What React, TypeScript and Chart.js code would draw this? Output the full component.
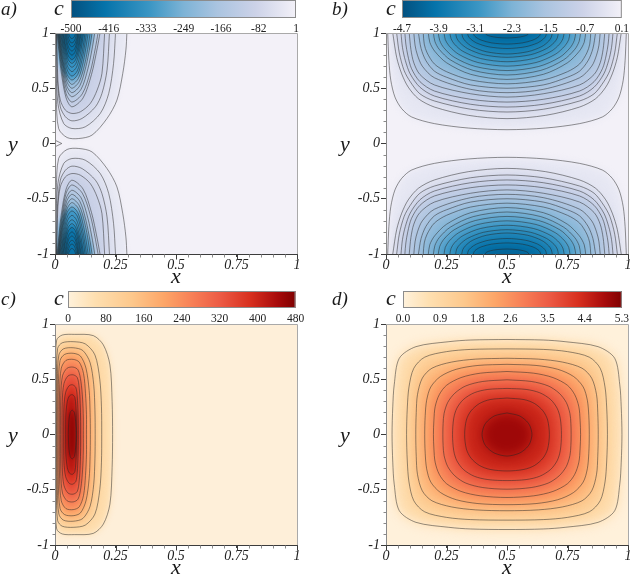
import React, { useEffect, useRef } from "react";
import { Chart, registerables } from "chart.js";

Chart.register(...registerables);

const FONT = '"Liberation Serif", "Times New Roman", serif';

const xMajor = [0, 0.25, 0.5, 0.75, 1];
const yMajor = [-1, -0.5, 0, 0.5, 1];
const xMinor = [0.05, 0.1, 0.15, 0.2, 0.3, 0.35, 0.4, 0.45, 0.55, 0.6, 0.65, 0.7, 0.8, 0.85, 0.9, 0.95];
const yMinor = [-0.9, -0.8, -0.7, -0.6, -0.4, -0.3, -0.2, -0.1, 0.1, 0.2, 0.3, 0.4, 0.6, 0.7, 0.8, 0.9];

const barTicksA = [-500, -416, -333, -249, -166, -82, 1];
const barTicksB = [-4.7, -3.9, -3.1, -2.3, -1.5, -0.7, 0.1];
const barTicksC = [0, 80, 160, 240, 320, 400, 480];
const barTicksD = [0, 0.9, 1.8, 2.6, 3.5, 4.4, 5.3];

const blueStops = ["#03507f", "#0573aa", "#3b96c4", "#7db3d6", "#aac4e0", "#ccd2e8", "#f3f1f8"];
const blueAt = [0, 0.15, 0.35, 0.5, 0.65, 0.82, 1];
const redStops = ["#fff2dc", "#fedfb0", "#fdc88c", "#fda668", "#f77e56", "#ec5a44", "#d8301f", "#a80b0b", "#7f0000"];
const redAt = [0, 0.12, 0.28, 0.42, 0.55, 0.67, 0.8, 0.92, 1];

// Panel a, upper lobe contours: x,y pairs running left to right
const contoursA = [
  [0.002,1,0.003,0.6,0.005,0.423,0.015,0.136,0.05,0.054,0.098,0.045,0.153,0.076,0.215,0.227,0.256,0.393,0.28,0.634,0.293,0.846,0.297,1],
  [0.004,1,0.004,0.725,0.012,0.362,0.036,0.181,0.07,0.136,0.125,0.151,0.187,0.272,0.222,0.453,0.242,0.725,0.25,1],
  [0.006,1,0.007,0.8,0.01,0.574,0.022,0.332,0.043,0.242,0.07,0.205,0.112,0.227,0.167,0.332,0.194,0.453,0.215,0.665,0.225,1],
  [0.007,1,0.012,0.574,0.022,0.393,0.043,0.302,0.07,0.272,0.105,0.287,0.146,0.363,0.174,0.483,0.194,0.634,0.205,1],
  [0.009,1,0.015,0.856,0.027,0.626,0.046,0.412,0.07,0.332,0.116,0.412,0.151,0.626,0.174,0.856,0.186,1],
  [0.011,1,0.017,0.866,0.029,0.65,0.046,0.45,0.07,0.375,0.113,0.45,0.146,0.65,0.167,0.866,0.178,1],
  [0.013,1,0.019,0.876,0.03,0.677,0.047,0.492,0.07,0.423,0.108,0.492,0.136,0.677,0.155,0.876,0.164,1],
  [0.015,1,0.02,0.884,0.032,0.698,0.048,0.525,0.07,0.46,0.103,0.525,0.128,0.698,0.145,0.884,0.153,1],
  [0.017,1,0.022,0.893,0.033,0.72,0.049,0.56,0.07,0.5,0.1,0.56,0.123,0.72,0.138,0.893,0.145,1],
  [0.019,1,0.024,0.9,0.034,0.74,0.05,0.591,0.07,0.535,0.097,0.591,0.117,0.74,0.13,0.9,0.137,1],
  [0.021,1,0.026,0.908,0.036,0.761,0.05,0.625,0.07,0.574,0.094,0.625,0.112,0.761,0.124,0.908,0.13,1],
  [0.024,1,0.029,0.916,0.038,0.782,0.052,0.657,0.07,0.61,0.092,0.657,0.108,0.782,0.119,0.916,0.124,1],
  [0.027,1,0.031,0.925,0.04,0.804,0.053,0.692,0.07,0.65,0.089,0.692,0.104,0.804,0.113,0.925,0.118,1],
  [0.03,1,0.034,0.933,0.042,0.826,0.054,0.727,0.07,0.69,0.087,0.727,0.1,0.826,0.109,0.933,0.113,1],
  [0.033,1,0.037,0.941,0.044,0.846,0.055,0.758,0.07,0.725,0.085,0.758,0.097,0.846,0.104,0.941,0.108,1],
  [0.036,1,0.039,0.948,0.046,0.866,0.056,0.789,0.07,0.76,0.084,0.789,0.094,0.866,0.101,0.948,0.104,1],
  [0.04,1,0.043,0.957,0.049,0.888,0.058,0.824,0.07,0.8,0.082,0.824,0.091,0.888,0.097,0.957,0.1,1],
  [0.043,1,0.046,0.965,0.051,0.909,0.059,0.857,0.07,0.837,0.081,0.857,0.089,0.909,0.094,0.965,0.097,1],
  [0.047,1,0.049,0.973,0.054,0.931,0.061,0.891,0.07,0.876,0.08,0.891,0.087,0.931,0.092,0.973,0.094,1],
  [0.051,1,0.053,0.981,0.057,0.95,0.062,0.921,0.07,0.91,0.078,0.921,0.084,0.95,0.088,0.981,0.09,1],
  [0.056,1,0.057,0.989,0.06,0.972,0.064,0.956,0.07,0.95,0.076,0.956,0.081,0.972,0.084,0.989,0.085,1],
];
const chevronA = [0, 0.03, 0.028, 0, 0, -0.03];
// Panel a, the wider blue patches that spread past the lines near the wall
const patchOuterA = [0.012,1,0.015,0.75,0.035,0.62,0.07,0.56,0.105,0.62,0.125,0.75,0.15,0.9,0.155,1];
const patchInnerA = [0.02,1,0.03,0.85,0.07,0.72,0.11,0.85,0.13,1];

// Panel b, one quarter of each contour: x,y pairs from the apex at x=0.5 to the y=1 edge
const contoursB = [
  [0.5,0.125,0.34,0.14,0.2,0.18,0.106,0.24,0.065,0.315,0.037,0.42,0.02,0.57,0.012,0.75,0.007,1],
  [0.5,0.225,0.34,0.255,0.2,0.33,0.134,0.405,0.092,0.51,0.065,0.63,0.044,0.78,0.028,1],
  [0.5,0.285,0.35,0.31,0.2,0.385,0.14,0.45,0.1,0.56,0.075,0.66,0.055,0.82,0.044,1],
  [0.5,0.33,0.35,0.355,0.2,0.43,0.14,0.51,0.1,0.63,0.08,0.75,0.068,0.87,0.062,1],
  [0.5,0.375,0.35,0.4,0.2,0.475,0.14,0.56,0.105,0.68,0.09,0.8,0.082,0.9,0.078,1],
  [0.5,0.42,0.35,0.45,0.2,0.53,0.14,0.625,0.115,0.73,0.103,0.85,0.096,1],
  [0.5,0.46,0.35,0.49,0.2,0.595,0.15,0.7,0.13,0.8,0.12,0.89,0.115,1],
  [0.5,0.5,0.35,0.53,0.25,0.6,0.2,0.655,0.165,0.75,0.145,0.86,0.134,1],
  [0.5,0.54,0.35,0.575,0.25,0.65,0.2,0.72,0.17,0.82,0.158,0.9,0.154,1],
  [0.5,0.58,0.35,0.626,0.25,0.731,0.201,0.836,0.181,0.916,0.175,1],
  [0.5,0.62,0.36,0.662,0.266,0.757,0.22,0.852,0.202,0.924,0.196,1],
  [0.5,0.66,0.369,0.697,0.281,0.782,0.239,0.867,0.222,0.932,0.216,1],
  [0.5,0.7,0.38,0.733,0.3,0.808,0.261,0.883,0.245,0.94,0.24,1],
  [0.5,0.74,0.391,0.769,0.318,0.834,0.283,0.899,0.269,0.948,0.264,1],
  [0.5,0.78,0.402,0.804,0.337,0.859,0.305,0.914,0.292,0.956,0.288,1],
  [0.5,0.81,0.414,0.831,0.356,0.878,0.328,0.926,0.317,0.962,0.313,1],
  [0.5,0.86,0.425,0.875,0.374,0.91,0.35,0.945,0.34,0.972,0.337,1],
  [0.5,0.9,0.436,0.911,0.393,0.936,0.372,0.961,0.364,0.98,0.361,1],
  [0.5,0.955,0.459,0.96,0.431,0.971,0.417,0.982,0.412,0.991,0.41,1],
];

// Panel c, upper half of each closed contour: x,y pairs left to right
const contoursC = [
  [0.003,0,0.003,0.6,0.007,0.855,0.03,0.9,0.08,0.906,0.158,0.895,0.2,0.81,0.227,0.63,0.236,0.3,0.238,0],
  [0.006,0,0.006,0.5,0.011,0.78,0.03,0.83,0.075,0.84,0.125,0.82,0.165,0.72,0.185,0.5,0.192,0.25,0.193,0],
  [0.009,0,0.01,0.5,0.016,0.72,0.035,0.775,0.075,0.785,0.115,0.76,0.145,0.65,0.16,0.45,0.165,0.22,0.166,0],
  [0.013,0,0.014,0.45,0.021,0.67,0.04,0.725,0.075,0.735,0.105,0.71,0.128,0.6,0.141,0.4,0.145,0.2,0.146,0],
  [0.018,0,0.019,0.4,0.026,0.6,0.045,0.67,0.075,0.68,0.1,0.655,0.118,0.55,0.126,0.37,0.13,0.18,0.13,0],
  [0.023,0,0.024,0.35,0.031,0.53,0.05,0.6,0.075,0.61,0.095,0.585,0.107,0.48,0.114,0.32,0.117,0.15,0.117,0],
  [0.029,0,0.03,0.3,0.037,0.46,0.054,0.53,0.075,0.54,0.092,0.515,0.1,0.42,0.104,0.28,0.106,0.12,0.106,0],
  [0.036,0,0.037,0.25,0.044,0.38,0.058,0.44,0.072,0.45,0.086,0.425,0.092,0.34,0.095,0.2,0.096,0],
  [0.044,0,0.045,0.18,0.051,0.3,0.06,0.35,0.072,0.36,0.082,0.335,0.086,0.26,0.088,0.15,0.089,0],
  [0.055,0,0.057,0.12,0.063,0.2,0.071,0.22,0.08,0.2,0.085,0.12,0.087,0],
];

// Panel d, one quarter of each closed contour: x,y pairs from the apex to the y=0 side
const contoursD = [
  [0.5,0.86,0.35,0.855,0.26,0.84,0.124,0.795,0.055,0.69,0.034,0.45,0.028,0.25,0.025,0],
  [0.5,0.775,0.35,0.77,0.25,0.75,0.16,0.7,0.115,0.6,0.095,0.43,0.088,0.24,0.085,0],
  [0.5,0.69,0.37,0.682,0.27,0.655,0.19,0.6,0.15,0.51,0.13,0.36,0.125,0.2,0.123,0],
  [0.5,0.635,0.38,0.625,0.29,0.59,0.225,0.525,0.185,0.43,0.168,0.31,0.162,0.17,0.16,0],
  [0.5,0.57,0.39,0.555,0.31,0.515,0.25,0.445,0.22,0.36,0.203,0.25,0.198,0.13,0.196,0],
  [0.5,0.495,0.4,0.48,0.33,0.44,0.285,0.375,0.255,0.29,0.24,0.19,0.236,0.1,0.235,0],
  [0.5,0.417,0.421,0.408,0.365,0.378,0.32,0.317,0.293,0.238,0.28,0.148,0.275,0],
  [0.5,0.33,0.43,0.316,0.386,0.28,0.351,0.213,0.332,0.13,0.325,0],
  [0.5,0.195,0.45,0.17,0.42,0.123,0.405,0.076,0.397,0],
];

type P = { x: number; y: number };
const pairs = (f: number[]): P[] => {
  const o: P[] = [];
  for (let i = 0; i < f.length; i += 2) o.push({ x: f[i], y: f[i + 1] });
  return o;
};
const flipY = (p: P[]) => p.map((q) => ({ x: q.x, y: -q.y }));
const flipX = (p: P[]) => p.map((q) => ({ x: 1 - q.x, y: q.y }));
const rev = (p: P[]) => [...p].reverse();

const hex = (h: string) => [1, 3, 5].map((i) => parseInt(h.slice(i, i + 2), 16));
const colorAt = (stops: string[], at: number[], t: number) => {
  const v = Math.min(1, Math.max(0, t));
  let i = 0;
  while (i < at.length - 2 && v > at[i + 1]) i++;
  const f = (v - at[i]) / (at[i + 1] - at[i]);
  const a = hex(stops[i]);
  const b = hex(stops[i + 1]);
  return `rgb(${a.map((c, j) => Math.round(c + (b[j] - c) * f)).join(",")})`;
};

const blue = (t: number) => colorAt(blueStops, blueAt, t);
const red = (t: number) => colorAt(redStops, redAt, t);

const LINE = "rgba(35,35,35,0.7)";
const ds = (data: P[], band: string | null, tension = 0.3, stroke = LINE) => ({
  data,
  showLine: true,
  borderColor: stroke,
  borderWidth: 0.7,
  pointRadius: 0,
  tension,
  bandColor: band,
});

const dsA = () => {
  const out: any[] = [];
  contoursA.forEach((c, k) => {
    const col = blue(1 - (k + 1.2) / 22);
    out.push(ds(pairs(c), col), ds(flipY(pairs(c)), col));
  });
  [[patchOuterA, "rgba(50,145,195,0.8)"], [patchInnerA, "rgba(5,110,165,0.85)"]].forEach(([f, col]: any) => {
    out.push(ds(pairs(f), col, 0.3, "rgba(0,0,0,0)"), ds(flipY(pairs(f)), col, 0.3, "rgba(0,0,0,0)"));
  });
  out.push(ds(pairs(chevronA), null, 0));
  return out;
};
const dsB = () => {
  const out: any[] = [];
  contoursB.forEach((c, k) => {
    const col = blue(1 - (k + 1.2) / 20.5);
    const q = pairs(c);
    const arch = [...rev(q), ...flipX(q).slice(1)];
    out.push(ds(arch, col), ds(flipY(arch), col));
  });
  return out;
};
const dsC = () =>
  contoursC.map((c, k) => {
    const top = pairs(c);
    return ds([...top, ...rev(flipY(top)).slice(1)], red((k + 1.4) / 10.6));
  });
const dsD = () =>
  contoursD.map((c, k) => {
    const q = pairs(c);
    const left = [...q, ...rev(flipY(q)).slice(1)];
    return ds([...left, ...rev(flipX(left)).slice(1)], red((k + 1.4) / 10));
  });

const bandPlugin = {
  id: "bands",
  beforeDatasetsDraw(chart: any, _a: any, o: any) {
    const { ctx, chartArea: ar } = chart;
    ctx.save();
    ctx.beginPath();
    ctx.rect(ar.left, ar.top, ar.right - ar.left, ar.bottom - ar.top);
    ctx.clip();
    ctx.fillStyle = o.base;
    ctx.fillRect(ar.left, ar.top, ar.right - ar.left, ar.bottom - ar.top);
    ctx.filter = `blur(${o.blur}px)`;
    const cy = (ar.top + ar.bottom) / 2;
    ctx.translate(0, cy);
    ctx.scale(1, o.stretch);
    ctx.translate(0, -cy);
    chart.data.datasets.forEach((d: any, i: number) => {
      if (!d.bandColor) return;
      const line = chart.getDatasetMeta(i).dataset;
      line.updateControlPoints(ar, "x");
      ctx.fillStyle = d.bandColor;
      ctx.beginPath();
      line.path(ctx);
      ctx.closePath();
      ctx.fill();
    });
    ctx.restore();
  },
};

const framePlugin = {
  id: "frame",
  afterDraw(chart: any, _a: any, o: any) {
    const { ctx, chartArea: ar, scales } = chart;
    ctx.save();
    ctx.lineWidth = 1;
    const seg = (x1: number, y1: number, x2: number, y2: number, c: string) => {
      ctx.strokeStyle = c;
      ctx.beginPath();
      ctx.moveTo(x1, y1);
      ctx.lineTo(x2, y2);
      ctx.stroke();
    };
    const l = Math.round(ar.left) + 0.5;
    const r = Math.round(ar.right) + 0.5;
    const t = Math.round(ar.top) + 0.5;
    const b = Math.round(ar.bottom) + 0.5;
    seg(l, t, r, t, "#a9a9a9");
    seg(r, t, r, b, "#a9a9a9");
    seg(l, t, l, b, "#8a8a8a");
    seg(l, b, r, b, "#3c3c3c");
    xMinor.forEach((v) => {
      const x = Math.round(scales.x.getPixelForValue(v)) + 0.5;
      seg(x, b, x, b + 3, "#8a8a8a");
    });
    xMajor.forEach((v) => {
      const x = Math.round(scales.x.getPixelForValue(v)) + 0.5;
      seg(x, b, x, b + 5, "#3c3c3c");
    });
    yMinor.forEach((v) => {
      const y = Math.round(scales.y.getPixelForValue(v)) + 0.5;
      seg(l - 3, y, l, y, "#8a8a8a");
    });
    ctx.fillStyle = "#1a1a1a";
    ctx.textBaseline = "alphabetic";
    ctx.textAlign = "left";
    ctx.font = `italic 19px ${FONT}`;
    ctx.fillText(o.label, o.labelX, o.labelY);
    ctx.font = `italic 22px ${FONT}`;
    ctx.fillText("c", o.cX, o.labelY);
    ctx.textAlign = "center";
    ctx.fillText("y", o.yX, o.yY);
    ctx.fillText("x", (ar.left + ar.right) / 2, o.xY);
    ctx.restore();
  },
};

const gradientPlugin = {
  id: "gradient",
  beforeDatasetsDraw(chart: any, _a: any, o: any) {
    const { ctx, chartArea: ar, scales } = chart;
    const g = ctx.createLinearGradient(ar.left, 0, ar.right, 0);
    const min = scales.x.min;
    const max = scales.x.max;
    o.at.forEach((p: number, i: number) => {
      const px = scales.x.getPixelForValue(min + (max - min) * p);
      g.addColorStop((px - ar.left) / (ar.right - ar.left), o.stops[i]);
    });
    ctx.save();
    ctx.fillStyle = g;
    ctx.fillRect(ar.left, ar.top, ar.right - ar.left, ar.bottom - ar.top);
    ctx.strokeStyle = "#8c8c8c";
    ctx.lineWidth = 1;
    ctx.strokeRect(ar.left + 0.5, ar.top + 0.5, ar.right - ar.left - 1, ar.bottom - ar.top - 1);
    ctx.restore();
  },
};

const fixW = (w: number) => (s: any) => { s.width = w; };
const fixH = (h: number) => (s: any) => { s.height = h; };
const setTicks = (vals: number[]) => (s: any) => { s.ticks = vals.map((value) => ({ value })); };

function panelConfig(p: any) {
  return {
    type: "scatter",
    data: { datasets: p.datasets() },
    options: {
      responsive: false,
      animation: false,
      events: [],
      layout: { padding: { left: 0, bottom: 0, top: p.top, right: p.right } },
      plugins: {
        legend: { display: false },
        tooltip: { enabled: false },
        bands: { base: p.base, blur: p.blur, stretch: p.stretch },
        frame: p.text,
      },
      scales: {
        x: {
          type: "linear", min: 0, max: 1,
          afterBuildTicks: setTicks(xMajor),
          afterFit: fixH(p.axisH),
          border: { display: false },
          grid: { drawOnChartArea: false, tickLength: 3, color: "#3c3c3c", tickColor: "#3c3c3c" },
          ticks: {
            autoSkip: false, maxRotation: 0, minRotation: 0, padding: 0, color: "#222",
            font: { family: FONT, size: 14, style: "italic" },
            callback: (v: number) => String(v),
          },
        },
        y: {
          type: "linear", min: -1, max: 1,
          afterBuildTicks: setTicks(yMajor),
          afterFit: fixW(p.axisW),
          border: { display: false },
          grid: { drawOnChartArea: false, tickLength: 5, color: "#3c3c3c", tickColor: "#3c3c3c" },
          ticks: {
            autoSkip: false, padding: 1, color: "#222",
            font: { family: FONT, size: 14, style: "italic" },
            callback: (v: number) => String(v),
          },
        },
      },
    },
    plugins: [bandPlugin, framePlugin],
  };
}

function barConfig(b: any) {
  return {
    type: "scatter",
    data: { datasets: [{ data: [], pointRadius: 0 }] },
    options: {
      responsive: false,
      animation: false,
      events: [],
      layout: { padding: { left: b.left, right: b.right, top: b.top, bottom: 0 } },
      plugins: {
        legend: { display: false },
        tooltip: { enabled: false },
        gradient: { stops: b.stops, at: b.at },
      },
      scales: {
        x: {
          type: "linear",
          min: b.ticks[0],
          max: b.ticks[b.ticks.length - 1],
          afterBuildTicks: setTicks(b.ticks),
          afterFit: fixH(b.axisH),
          border: { display: false },
          grid: { display: false, drawTicks: false },
          ticks: {
            autoSkip: false, maxRotation: 0, minRotation: 0, padding: 4, color: "#222",
            font: { family: FONT, size: 11.5 },
            callback: (v: number) => b.format(v),
          },
        },
        y: { display: false, min: 0, max: 1 },
      },
    },
    plugins: [gradientPlugin],
  };
}

const panels = [
  { box: [0, 0, 316, 285], axisW: 55, axisH: 31, top: 33, right: 19, datasets: dsA, base: "#f3f1f8", blur: 2, stretch: 1.03,
    text: { label: "a)", labelX: 1, labelY: 15, cX: 54, yX: 13, yY: 151, xY: 283 } },
  { box: [316, 0, 317, 285], axisW: 70, axisH: 31, top: 33, right: 5, datasets: dsB, base: "#f3f1f8", blur: 3.5, stretch: 1.03,
    text: { label: "b)", labelX: 16, labelY: 15, cX: 70, yX: 29, yY: 151, xY: 283 } },
  { box: [0, 285, 316, 289], axisW: 55, axisH: 29, top: 39, right: 19, datasets: dsC, base: "#feefd9", blur: 3, stretch: 1,
    text: { label: "c)", labelX: 1, labelY: 20, cX: 54, yX: 13, yY: 157, xY: 289 } },
  { box: [316, 285, 317, 289], axisW: 70, axisH: 29, top: 39, right: 5, datasets: dsD, base: "#fff1db", blur: 6, stretch: 1,
    text: { label: "d)", labelX: 16, labelY: 20, cX: 70, yX: 29, yY: 157, xY: 289 } },
];

const bars = [
  { box: [50, 0, 270, 40], left: 21, right: 24, top: 0, axisH: 22, ticks: barTicksA, stops: blueStops, at: blueAt, format: (v: number) => String(v) },
  { box: [380, 0, 253, 40], left: 22, right: 6, top: 0, axisH: 22, ticks: barTicksB, stops: blueStops, at: blueAt, format: (v: number) => v.toFixed(1) },
  { box: [50, 285, 270, 40], left: 18, right: 24.5, top: 6, axisH: 17, ticks: barTicksC, stops: redStops, at: redAt, format: (v: number) => String(v) },
  { box: [380, 285, 253, 40], left: 23, right: 6, top: 6, axisH: 17, ticks: barTicksD, stops: redStops, at: redAt, format: (v: number) => v.toFixed(1) },
];

function Canvas({ box, config }: { box: number[]; config: any }) {
  const ref = useRef<HTMLCanvasElement>(null);
  useEffect(() => {
    const chart = new Chart(ref.current as HTMLCanvasElement, config);
    return () => chart.destroy();
  }, []);
  return (
    <canvas
      ref={ref}
      width={box[2]}
      height={box[3]}
      style={{ position: "absolute", left: box[0], top: box[1], width: box[2], height: box[3] }}
    />
  );
}

export default function App() {
  return (
    <div style={{ position: "absolute", left: 0, top: 0, width: 633, height: 574, overflow: "hidden", background: "#fff" }}>
      {panels.map((p, i) => <Canvas key={"p" + i} box={p.box} config={panelConfig(p)} />)}
      {bars.map((b, i) => <Canvas key={"b" + i} box={b.box} config={barConfig(b)} />)}
    </div>
  );
}
